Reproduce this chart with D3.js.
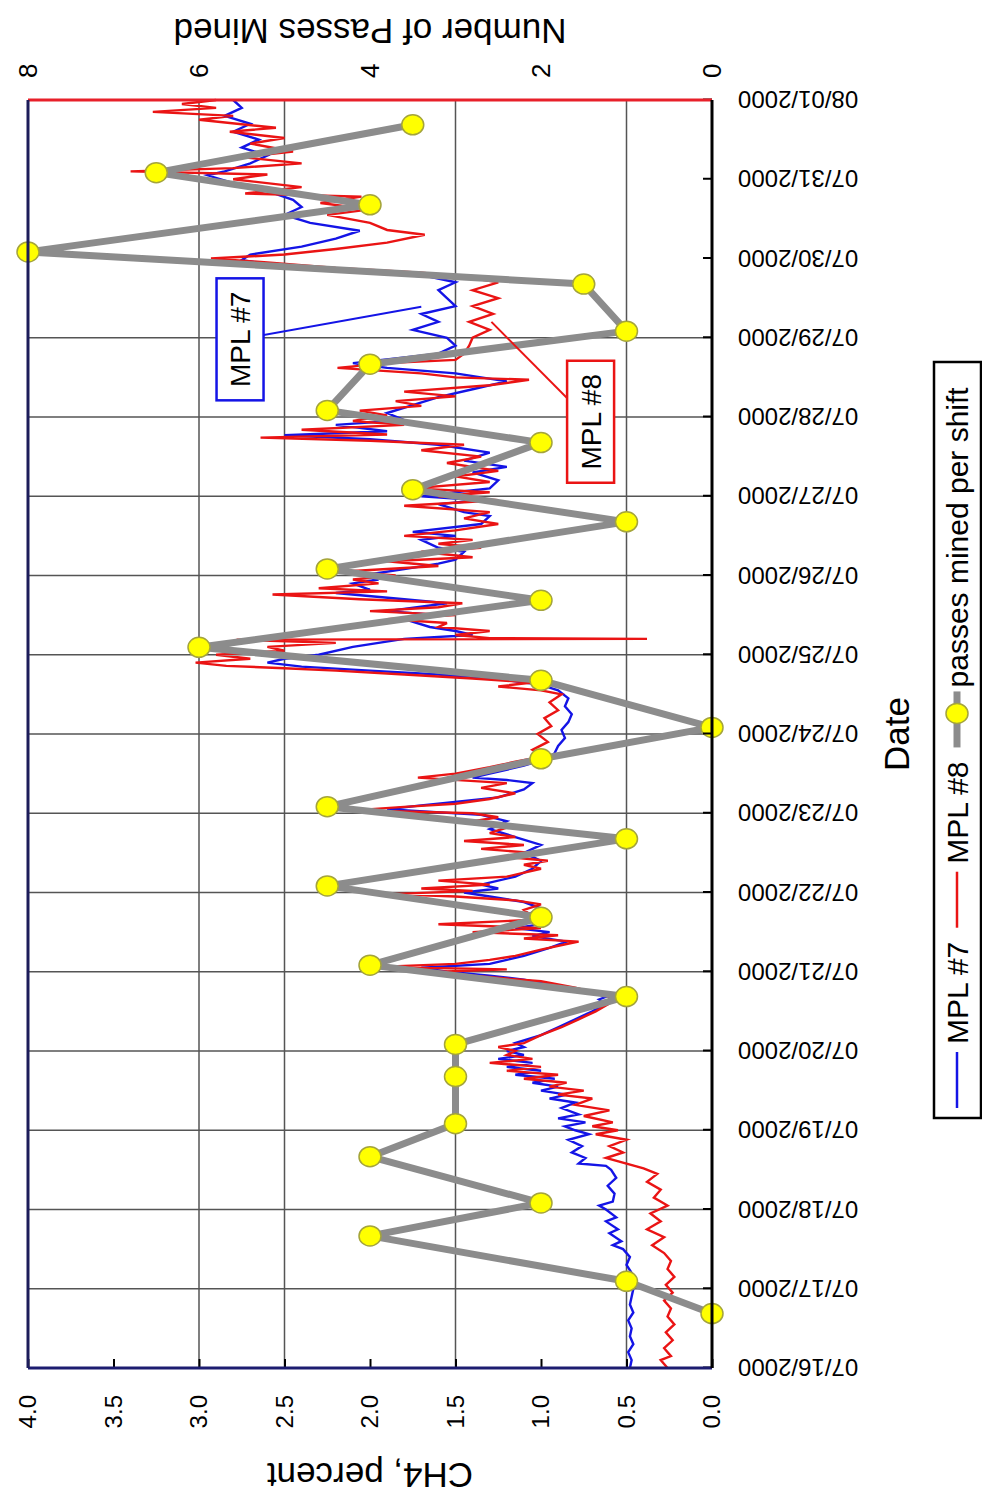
<!DOCTYPE html>
<html>
<head>
<meta charset="utf-8">
<script src="https://cdn.jsdelivr.net/npm/d3@7"></script>
<style>
  body { margin: 0; background: #fff; }
  text { font-family: "Liberation Sans", Arial, sans-serif; fill: #000; }
</style>
</head>
<body>
<svg id="chart" width="982" height="1501"></svg>
<script>
// --- data -------------------------------------------------------------
const startDay = new Date(2000, 6, 16);
const endDay = new Date(2000, 7, 1);

const ch4Ticks = [0, 0.5, 1, 1.5, 2, 2.5, 3, 3.5, 4];
const ch4Grid = [0.5, 1.5, 2.5, 3.0];
const passTicks = [0, 2, 4, 6, 8];

// end of each shift and passes mined in it
const passTimes = [
  "07/16 16:30", "07/17 02:15", "07/17 16:00", "07/18 02:00", "07/18 16:00",
  "07/19 02:00", "07/19 16:15", "07/20 02:00", "07/20 16:30", "07/21 02:00",
  "07/21 16:30", "07/22 02:00", "07/22 16:15", "07/23 02:00", "07/23 16:30",
  "07/24 02:00", "07/24 16:15", "07/25 02:15", "07/25 16:30", "07/26 02:00",
  "07/26 16:15", "07/27 02:00", "07/27 16:15", "07/28 02:00", "07/28 16:00",
  "07/29 02:00", "07/29 16:15", "07/30 02:00", "07/30 16:15", "07/31 02:00",
  "07/31 16:30"
];
const passValues = [
  0, 1, 4, 2, 4, 3, 3, 3, 1, 4, 2, 4.5, 1, 4.5, 2, 0,
  2, 6, 2, 4.5, 1, 3.5, 2, 4.5, 4, 1, 1.5, 8, 4, 6.5, 3.5
];

// CH4 readings [days since 07/16 00:00, percent]
const mpl7 = [
  [0.00,0.48],[0.10,0.47],[0.20,0.49],[0.30,0.46],[0.40,0.48],[0.50,0.47],[0.60,0.49],
  [0.70,0.46],[0.80,0.48],[0.90,0.47],[1.00,0.46],[1.10,0.48],[1.20,0.47],[1.30,0.50],
  [1.40,0.48],[1.50,0.52],[1.55,0.58],[1.60,0.53],[1.70,0.60],[1.75,0.55],[1.85,0.62],
  [1.90,0.56],[2.00,0.62],[2.05,0.66],[2.10,0.58],[2.20,0.57],[2.30,0.61],[2.40,0.56],
  [2.50,0.59],[2.55,0.62],[2.58,0.78],[2.65,0.74],[2.72,0.82],[2.80,0.76],[2.88,0.84],
  [2.95,0.72],[3.00,0.80],[3.05,0.86],[3.10,0.74],[3.15,0.90],[3.20,0.78],[3.28,0.88],
  [3.35,0.80],[3.40,0.95],[3.45,0.85],[3.50,1.00],[3.55,0.90],[3.60,1.05],[3.65,0.92],
  [3.70,1.15],[3.75,1.00],[3.80,1.20],[3.85,1.05],[3.90,1.25],[3.95,1.10],[4.00,1.20],
  [4.05,1.10],[4.10,1.15],[4.20,1.00],[4.30,0.90],[4.40,0.80],[4.50,0.70],[4.60,0.62],
  [4.65,0.66],[4.70,0.60],[4.80,0.85],[4.90,1.10],[4.95,1.30],[5.00,1.55],[5.05,1.70],
  [5.10,1.30],[5.15,1.20],[5.20,1.10],[5.30,0.95],[5.38,0.85],[5.45,1.05],[5.50,0.95],
  [5.55,1.15],[5.60,1.00],[5.70,1.10],[5.80,1.00],[5.88,1.10],[5.95,1.30],[6.00,1.45],
  [6.05,1.25],[6.10,1.35],[6.20,1.15],[6.30,1.05],[6.40,1.00],[6.50,1.10],[6.60,1.00],
  [6.70,1.15],[6.80,1.30],[6.90,1.20],[6.98,1.35],[7.05,1.90],[7.10,1.70],[7.20,1.25],
  [7.30,1.10],[7.38,1.05],[7.42,1.20],[7.45,1.40],[7.50,1.30],[7.60,1.10],[7.70,0.95],
  [7.76,0.92],[7.85,0.90],[7.95,0.86],[8.05,0.88],[8.15,0.84],[8.25,0.82],[8.35,0.86],
  [8.45,0.84],[8.55,0.90],[8.62,1.00],[8.68,1.20],[8.75,1.60],[8.80,2.00],[8.85,2.40],
  [8.90,2.60],[8.95,2.50],[9.00,2.30],[9.10,2.10],[9.20,1.80],[9.25,1.40],[9.30,1.50],
  [9.35,1.65],[9.45,1.80],[9.50,1.60],[9.55,1.90],[9.65,1.55],[9.70,1.80],[9.78,2.20],
  [9.82,2.00],[9.90,2.10],[9.95,1.95],[10.00,2.05],[10.08,1.80],[10.15,1.60],[10.20,1.50],
  [10.30,1.45],[10.35,1.60],[10.45,1.70],[10.50,1.50],[10.55,1.75],[10.65,1.35],[10.75,1.30],
  [10.80,1.45],[10.90,1.60],[10.95,1.35],[11.00,1.70],[11.05,1.50],[11.10,1.30],[11.20,1.25],
  [11.30,1.40],[11.37,1.20],[11.45,1.45],[11.55,1.30],[11.65,1.60],[11.72,2.00],[11.77,2.50],
  [11.82,1.90],[11.90,2.20],[11.96,1.80],[12.05,1.90],[12.15,1.75],[12.25,1.60],[12.35,1.40],
  [12.45,1.20],[12.55,1.50],[12.62,1.90],[12.68,2.10],[12.80,1.60],[12.90,1.50],[13.00,1.55],
  [13.10,1.75],[13.20,1.60],[13.30,1.70],[13.40,1.50],[13.50,1.55],[13.60,1.60],[13.70,1.50],
  [13.77,1.65],[13.82,2.00],[13.90,2.50],[13.98,2.75],[14.05,2.70],[14.15,2.40],[14.25,2.20],
  [14.35,2.06],[14.45,2.35],[14.55,2.50],[14.65,2.40],[14.74,2.45],[14.85,2.60],[14.95,2.80],
  [15.05,2.95],[15.10,2.85],[15.20,2.70],[15.30,2.60],[15.40,2.75],[15.50,2.65],[15.60,2.80],
  [15.70,2.70],[15.80,2.85],[15.90,2.75],[16.00,2.80]
];

const mpl8 = [
  [0.00,0.26],[0.10,0.30],[0.15,0.24],[0.25,0.28],[0.35,0.23],[0.45,0.27],[0.55,0.22],
  [0.65,0.26],[0.75,0.24],[0.85,0.28],[0.95,0.23],[1.05,0.27],[1.15,0.22],[1.25,0.26],
  [1.35,0.24],[1.45,0.28],[1.55,0.35],[1.65,0.28],[1.75,0.38],[1.85,0.30],[1.95,0.36],
  [2.05,0.26],[2.15,0.34],[2.25,0.30],[2.35,0.38],[2.45,0.32],[2.52,0.40],[2.58,0.50],
  [2.65,0.62],[2.72,0.52],[2.80,0.60],[2.88,0.50],[2.95,0.68],[3.00,0.55],[3.05,0.70],
  [3.10,0.58],[3.18,0.75],[3.25,0.60],[3.32,0.80],[3.40,0.70],[3.45,0.90],[3.50,0.75],
  [3.55,0.95],[3.60,0.85],[3.65,1.10],[3.70,0.90],[3.75,1.20],[3.80,1.00],[3.85,1.30],
  [3.90,1.05],[3.95,1.20],[4.00,1.15],[4.05,1.25],[4.10,1.10],[4.20,1.00],[4.30,0.88],
  [4.40,0.78],[4.50,0.68],[4.60,0.60],[4.65,0.56],[4.70,0.62],[4.80,0.80],[4.88,1.00],
  [4.95,1.40],[5.00,1.60],[5.03,1.20],[5.06,1.95],[5.10,1.50],[5.15,1.30],[5.20,1.15],
  [5.28,1.00],[5.35,0.85],[5.38,0.78],[5.42,1.10],[5.46,0.90],[5.50,1.40],[5.55,1.00],
  [5.60,1.60],[5.65,1.10],[5.70,1.05],[5.78,1.10],[5.85,1.00],[5.90,1.15],[5.95,1.50],
  [5.98,1.88],[6.02,1.40],[6.05,1.70],[6.10,1.30],[6.15,1.60],[6.20,1.20],[6.30,1.00],
  [6.35,1.10],[6.40,0.96],[6.45,1.20],[6.50,1.05],[6.55,1.35],[6.60,1.10],[6.65,1.45],
  [6.70,1.15],[6.75,1.30],[6.82,1.20],[6.88,1.45],[6.95,1.25],[7.00,1.40],[7.04,2.08],
  [7.08,1.80],[7.12,1.50],[7.18,1.30],[7.25,1.15],[7.32,1.35],[7.38,1.20],[7.45,1.72],
  [7.50,1.50],[7.58,1.30],[7.65,1.15],[7.72,0.98],[7.80,1.05],[7.90,0.96],[8.00,1.02],
  [8.10,0.94],[8.20,0.98],[8.30,0.90],[8.40,0.95],[8.50,0.88],[8.55,1.00],[8.60,1.25],
  [8.65,1.05],[8.70,1.40],[8.75,1.80],[8.80,2.20],[8.83,2.50],[8.86,2.84],[8.90,3.02],
  [8.95,2.70],[9.00,2.90],[9.05,2.50],[9.10,2.60],[9.15,2.20],[9.19,2.78],[9.20,0.38],
  [9.21,1.30],[9.25,1.50],[9.30,1.30],[9.35,1.60],[9.40,1.55],[9.45,1.90],[9.50,1.50],
  [9.55,2.00],[9.60,1.60],[9.65,1.46],[9.70,2.06],[9.76,2.57],[9.80,1.90],[9.84,2.30],
  [9.90,1.95],[9.95,2.10],[10.00,1.85],[10.05,2.15],[10.12,1.60],[10.18,1.90],[10.23,1.40],
  [10.30,1.70],[10.35,1.35],[10.40,1.60],[10.45,1.40],[10.50,1.80],[10.57,1.50],[10.65,1.25],
  [10.72,1.45],[10.80,1.30],[10.88,1.80],[10.95,1.25],[11.00,1.60],[11.05,1.30],[11.10,1.75],
  [11.18,1.30],[11.25,1.50],[11.32,1.25],[11.42,1.55],[11.50,1.35],[11.58,1.70],[11.65,1.45],
  [11.70,2.00],[11.74,2.64],[11.78,1.90],[11.84,2.40],[11.90,1.80],[11.95,2.10],[12.02,1.90],
  [12.08,2.06],[12.14,1.70],[12.20,1.85],[12.26,1.50],[12.32,1.80],[12.40,1.30],[12.47,1.07],
  [12.50,1.50],[12.55,1.70],[12.62,2.19],[12.68,1.90],[12.72,1.50],[12.80,1.45],[12.90,1.42],
  [13.00,1.40],[13.10,1.30],[13.20,1.42],[13.30,1.28],[13.40,1.40],[13.50,1.25],[13.60,1.40],
  [13.70,1.25],[13.77,1.45],[13.82,1.70],[13.88,2.20],[13.95,2.60],[14.00,2.93],[14.05,2.50],
  [14.12,2.20],[14.20,1.90],[14.30,1.68],[14.36,1.90],[14.45,2.00],[14.55,2.25],[14.62,2.00],
  [14.70,2.29],[14.78,2.05],[14.82,2.73],[14.90,2.40],[15.00,2.80],[15.06,2.60],[15.10,3.40],
  [15.14,2.80],[15.20,2.40],[15.28,2.75],[15.35,2.45],[15.45,2.70],[15.52,2.50],[15.60,2.82],
  [15.65,2.55],[15.75,3.00],[15.80,2.80],[15.85,3.27],[15.90,2.90],[15.95,3.10],[16.00,2.90]
];

// --- layout (chart is built upright, then turned a quarter left) ------
const W = 1501;
const plotL = 133, plotR = 1401, plotT = 28, plotB = 712;
const font = '"Liberation Sans", Arial, sans-serif';

const svg = d3.select("#chart");
svg.append("rect").attr("width", 982).attr("height", 1501).attr("fill", "#fff");
const g = svg.append("g").attr("transform", `translate(0,${W}) rotate(-90)`);

const parsePass = d3.timeParse("%Y/%m/%d %H:%M");
const dayToDate = d => new Date(startDay.getTime() + d * 864e5);

const x = d3.scaleTime().domain([startDay, endDay]).range([plotL, plotR]);
const y = d3.scaleLinear().domain([0, 4]).range([plotB, plotT]);
const y2 = d3.scaleLinear().domain([0, 8]).range([plotB, plotT]);

// grid
const dayGrid = d3.timeDay.range(new Date(2000, 6, 17), new Date(2000, 6, 30));
g.append("g").selectAll("line").data(dayGrid).join("line")
  .attr("x1", d => x(d)).attr("x2", d => x(d))
  .attr("y1", plotT).attr("y2", plotB)
  .attr("stroke", "#555").attr("stroke-width", 1.5);
g.append("g").selectAll("line").data(ch4Grid).join("line")
  .attr("x1", plotL).attr("x2", plotR)
  .attr("y1", d => y(d)).attr("y2", d => y(d))
  .attr("stroke", "#555").attr("stroke-width", 1.5);

// CH4 traces
const ch4Line = d3.line().x(p => x(dayToDate(p[0]))).y(p => y(p[1]));
g.append("path").datum(mpl7).attr("d", ch4Line)
  .attr("fill", "none").attr("stroke", "#1414e6").attr("stroke-width", 2.4);
g.append("path").datum(mpl8).attr("d", ch4Line)
  .attr("fill", "none").attr("stroke", "#ea1414").attr("stroke-width", 2.4);

// passes per shift
const passes = passTimes.map((t, i) => ({ t: parsePass("2000/" + t), v: passValues[i] }));
g.append("path").datum(passes)
  .attr("d", d3.line().x(d => x(d.t)).y(d => y2(d.v)))
  .attr("fill", "none").attr("stroke", "#8c8c8c").attr("stroke-width", 7)
  .attr("stroke-linejoin", "round");
g.append("g").selectAll("ellipse").data(passes).join("ellipse")
  .attr("cx", d => x(d.t)).attr("cy", d => y2(d.v))
  .attr("rx", 10).attr("ry", 11)
  .attr("fill", "#ffff00").attr("stroke", "#a4a43c").attr("stroke-width", 1.5);

// axes
const xAxis = g.append("g").attr("transform", `translate(0,${plotB})`)
  .call(d3.axisBottom(x)
    .tickValues(d3.timeDay.range(startDay, d3.timeDay.offset(endDay, 1)))
    .tickFormat(d3.timeFormat("%m/%d/%Y"))
    .tickSizeInner(-9).tickSizeOuter(0));
xAxis.select(".domain").remove();
xAxis.selectAll("line").attr("stroke", "#000").attr("stroke-width", 2);
xAxis.selectAll("text")
  .attr("x", 0).attr("y", 0).attr("dy", "0.35em")
  .attr("transform", "translate(0,26) rotate(-90)")
  .attr("text-anchor", "end")
  .style("font-family", font).style("font-size", "24px");

const yAxis = g.append("g").attr("transform", `translate(${plotL},0)`)
  .call(d3.axisLeft(y).tickValues(ch4Ticks).tickFormat(d3.format(".1f"))
    .tickSizeInner(-9).tickSizeOuter(0).tickPadding(27));
yAxis.select(".domain").remove();
yAxis.selectAll("line").attr("stroke", "#000").attr("stroke-width", 2);
yAxis.selectAll("text").style("font-family", font).style("font-size", "24px");

const y2Axis = g.append("g").attr("transform", `translate(${plotR},0)`)
  .call(d3.axisRight(y2).tickValues(passTicks).tickFormat(d3.format("d"))
    .tickSize(0).tickPadding(22));
y2Axis.select(".domain").remove();
y2Axis.selectAll("text").style("font-family", font).style("font-size", "26px");

// frame
const frame = [
  [plotL, plotT, plotL, plotB, "#1c1c70"],
  [plotR, plotT, plotR, plotB, "#e8202a"],
  [plotL, plotB, plotR, plotB, "#000"],
  [plotL, plotT, plotR, plotT, "#1c1c5a"]
];
g.append("g").selectAll("line").data(frame).join("line")
  .attr("x1", d => d[0]).attr("y1", d => d[1]).attr("x2", d => d[2]).attr("y2", d => d[3])
  .attr("stroke", d => d[4]).attr("stroke-width", 3);

// titles
const midY = (plotT + plotB) / 2;
g.append("text").attr("transform", `translate(38,${midY}) rotate(-90)`)
  .attr("text-anchor", "middle").style("font-size", "35px").text("CH4, percent");
g.append("text").attr("transform", `translate(1482,${midY}) rotate(-90)`)
  .attr("text-anchor", "middle").style("font-size", "35px").text("Number of Passes Mined");
g.append("text").attr("x", x(new Date(2000, 6, 24))).attr("y", 909)
  .attr("text-anchor", "middle").style("font-size", "35px").text("Date");

// series call-outs
function callout(label, color, boxDay, boxVal, tipDay, tipVal) {
  const bx = x(dayToDate(boxDay)), by = y(boxVal);
  const w = 122, h = 47;
  g.append("line")
    .attr("x1", bx).attr("y1", by).attr("x2", x(dayToDate(tipDay))).attr("y2", y(tipVal))
    .attr("stroke", color).attr("stroke-width", 2);
  g.append("rect").attr("x", bx - w / 2).attr("y", by - h / 2).attr("width", w).attr("height", h)
    .attr("fill", "#fff").attr("stroke", color).attr("stroke-width", 2.5);
  g.append("text").attr("x", bx).attr("y", by).attr("dy", "0.36em")
    .attr("text-anchor", "middle").style("font-size", "28px").text(label);
}
callout("MPL #7", "#1414e6", 12.98, 2.76, 13.39, 1.70);
callout("MPL #8", "#ea1414", 11.94, 0.71, 13.2, 1.29);

// legend
const leg = g.append("g");
const legY = 957;
leg.append("rect").attr("x", 383).attr("y", 934).attr("width", 756).attr("height", 47)
  .attr("fill", "#fff").attr("stroke", "#000").attr("stroke-width", 2.5);
let cx = 393;
const items = [
  { label: "MPL #7", color: "#1414e6", type: "line" },
  { label: "MPL #8", color: "#ea1414", type: "line" },
  { label: "passes mined per shift", color: "#8c8c8c", type: "marker" }
];
items.forEach(it => {
  if (it.type === "line") {
    leg.append("line").attr("x1", cx).attr("x2", cx + 56).attr("y1", legY).attr("y2", legY)
      .attr("stroke", it.color).attr("stroke-width", 2.5);
    cx += 64;
  } else {
    leg.append("line").attr("x1", cx).attr("x2", cx + 56).attr("y1", legY).attr("y2", legY)
      .attr("stroke", it.color).attr("stroke-width", 7);
    leg.append("ellipse").attr("cx", cx + 34).attr("cy", legY).attr("rx", 10).attr("ry", 11)
      .attr("fill", "#ffff00").attr("stroke", "#a4a43c").attr("stroke-width", 1.5);
    cx += 60;
  }
  const t = leg.append("text").attr("x", cx).attr("y", legY).attr("dy", "0.36em")
    .style("font-size", "30px").text(it.label);
  cx += t.node().getComputedTextLength() + 14;
});
</script>
</body>
</html>
